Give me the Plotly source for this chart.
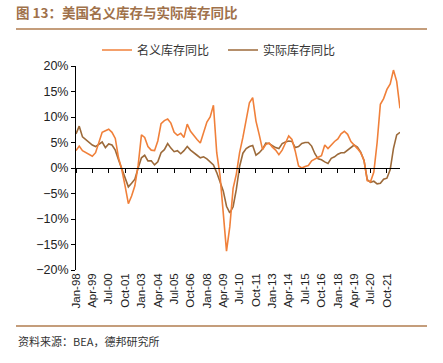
import pandas as pd
import plotly.graph_objects as go

# Quarterly readings, Jan-1998 .. Oct-2022 (YoY, %)
nominal = [3.4, 4.3, 3.4, 3.0, 2.6, 2.3, 3.0, 5.0, 7.0, 7.3, 7.6, 7.0, 5.8, 2.0, -0.3, -3.5, -7.0, -5.5, -3.5, 0.5,
           6.5, 6.0, 4.2, 3.5, 3.4, 5.3, 8.7, 9.3, 9.6, 8.8, 7.0, 6.4, 6.8, 6.0, 8.6, 7.2, 6.3, 5.6, 4.9, 7.2,
           9.0, 10.0, 12.3, 3.0, -1.5, -8.8, -16.3, -11.5, -4.0, -1.2, 3.0, 6.0, 9.8, 12.8, 13.8, 9.2, 6.5, 3.6, 4.6, 4.9,
           4.1, 3.5, 2.6, 3.5, 4.9, 6.3, 5.6, 3.3, 0.4, 0.0, 0.3, 0.5, 1.4, 1.8, 2.1, 2.4, 4.5, 3.8, 4.6, 5.2,
           5.7, 6.7, 7.2, 6.6, 5.2, 4.6, 3.8, 3.0, 1.5, -2.5, -2.7, -0.8, 5.0, 12.5, 13.6, 15.4, 16.5, 19.2, 17.0, 11.7]
real = [6.7, 8.2, 6.1, 5.6, 5.1, 4.5, 4.2, 4.6, 5.1, 4.0, 4.7, 4.5, 3.5, 1.6, -0.2, -2.0, -3.7, -3.0, -2.2, 0.0,
        2.0, 2.5, 1.4, 1.4, 0.6, 1.2, 3.0, 3.6, 4.8, 3.9, 3.2, 3.4, 2.8, 3.4, 4.2, 3.5, 2.9, 2.5, 2.0, 2.2,
        1.8, 1.1, 0.6, -0.9, -2.8, -4.5, -7.5, -8.8, -7.6, -4.2, 0.3, 2.9, 3.8, 4.2, 4.4, 2.5, 3.0, 3.7, 4.9, 4.8,
        4.4, 4.0, 3.8, 4.8, 5.1, 5.3, 5.2, 4.0, 4.2, 4.8, 5.0, 5.0, 4.3, 2.8, 1.8, 1.6, 1.2, 0.9, 1.9, 2.2,
        2.7, 3.0, 3.0, 3.5, 3.9, 4.5, 4.1, 3.1, 1.5, -2.3, -2.8, -2.6, -3.1, -3.0, -2.2, -2.0, -0.3, 3.8, 6.5, 7.0]
dates = pd.date_range("1998-01-01", periods=len(nominal), freq="3MS")

series_names = ["名义库存同比", "实际库存同比"]
colors = ["#F0803A", "#9C6A3A"]
title_text = "图 13：美国名义库存与实际库存同比"
source_text = "资料来源：BEA，德邦研究所"

CJK = "Noto Sans CJK SC"
LAT = "Liberation Sans, Arial, sans-serif"

fig = go.Figure()
fig.add_trace(go.Scatter(x=dates, y=nominal, name=series_names[0], mode="lines",
                         line=dict(color=colors[0], width=1.6), xaxis="x2", yaxis="y"))
fig.add_trace(go.Scatter(x=dates, y=real, name=series_names[1], mode="lines",
                         line=dict(color=colors[1], width=1.6), xaxis="x", yaxis="y"))

W, H = 443, 363
# plot area on screen: x 76..400, y 66..270
L, T = 76, 66
R = W - 400
B = H - 270
pw, ph = W - L - R, H - T - B

def px(x):  # screen x -> paper
    return (x - L) / pw

def py(y):  # screen y -> paper
    return (H - B - y) / ph

fig.update_layout(
    width=W, height=H,
    margin=dict(l=L, r=R, t=T, b=B, autoexpand=False),
    paper_bgcolor="white", plot_bgcolor="white",
    showlegend=True,
    legend=dict(orientation="h", xref="container", yref="container", x=97 / W,
                y=1 - 50 / H, xanchor="left", yanchor="middle", itemwidth=30,
                entrywidth=81, entrywidthmode="pixels",
                font=dict(family=CJK, size=12, color="#333333"), bgcolor="rgba(0,0,0,0)"),
    title=dict(text="<b>" + title_text + "</b>", xref="container", yref="container",
               x=16 / W, y=1 - 13 / H, xanchor="left", yanchor="middle",
               font=dict(family=CJK, size=13.5, color="#A0714A")),
    xaxis=dict(type="date", range=["1998-01-01", "2022-10-01"], tick0="1998-01-01", dtick="M15",
               tickformat="%b-%y", tickangle=-90, showline=False, ticks="", showgrid=False,
               zeroline=False, tickfont=dict(family=LAT, size=11.5, color="#222222")),
    xaxis2=dict(type="date", matches="x", overlaying="x", anchor="free", position=0.5,
                tick0="1998-01-01", dtick="M15", showticklabels=False, showline=True,
                linecolor="black", linewidth=1.2, ticks="outside", ticklen=4, tickcolor="black",
                showgrid=False, zeroline=False),
    yaxis=dict(range=[-20, 20], dtick=5, ticksuffix="%", showline=True, linecolor="black",
               linewidth=1, ticks="outside", ticklen=4, tickcolor="black", showgrid=False,
               zeroline=False, tickfont=dict(family=LAT, size=12.5, color="#222222")),
    shapes=[
        dict(type="line", xref="paper", yref="paper", x0=px(16), x1=px(427), y0=py(29), y1=py(29),
             line=dict(color="#B07D4F", width=1.5)),
        dict(type="line", xref="paper", yref="paper", x0=px(16), x1=px(427), y0=py(326), y1=py(326),
             line=dict(color="#B07D4F", width=1.5)),
    ],
    annotations=[
        dict(text=source_text, xref="paper", yref="paper", x=px(16), y=py(341), xanchor="left",
             yanchor="middle", showarrow=False, font=dict(family=CJK, size=11, color="#333333")),
    ],
)

fig.write_html("out.html", config={"displayModeBar": False},
               post_script="document.body.style.margin='0';")
